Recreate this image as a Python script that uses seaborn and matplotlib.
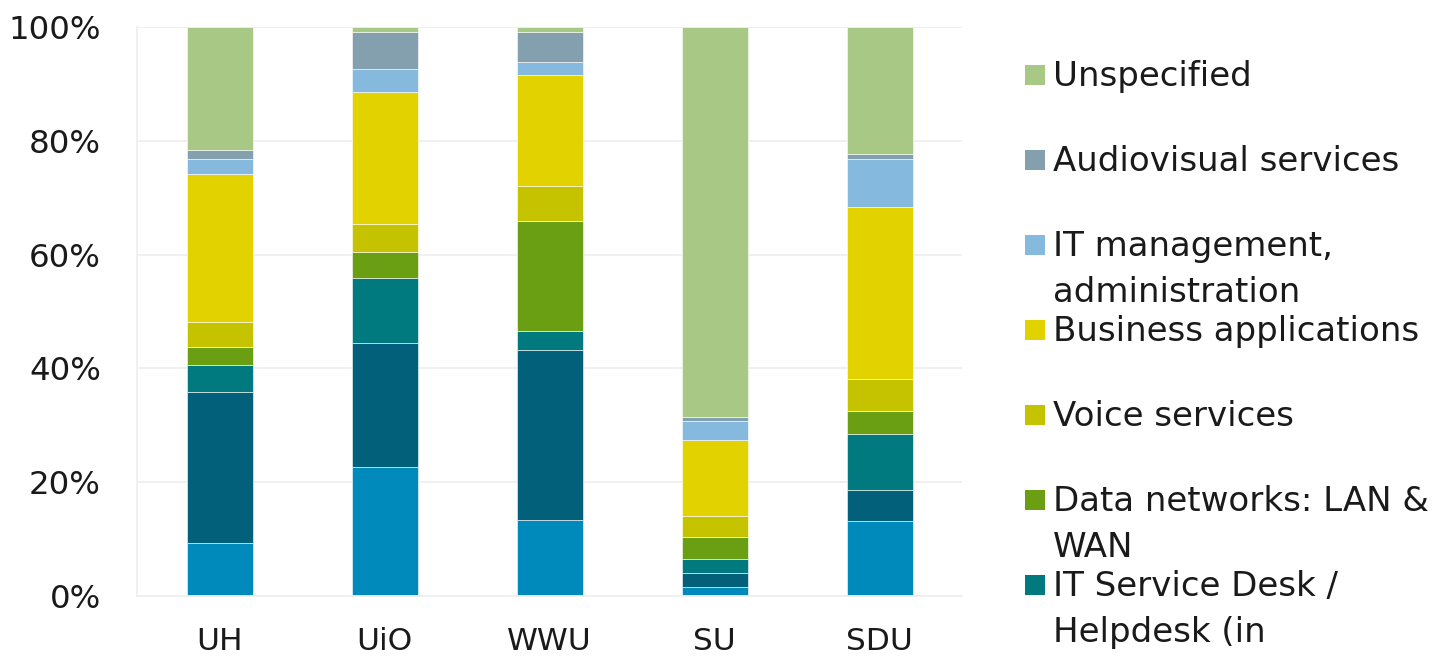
import matplotlib
matplotlib.use("Agg")
import matplotlib.pyplot as plt
import seaborn as sns
import numpy as np
from matplotlib.patches import Rectangle

# ---- data (shares in %, bottom to top) ----
universities = ["UH", "UiO", "WWU", "SU", "SDU"]

series_names = [
    "Category A (not shown in legend)",
    "Category B (not shown in legend)",
    "IT Service Desk /\nHelpdesk (in",
    "Data networks: LAN &\nWAN",
    "Voice services",
    "Business applications",
    "IT management,\nadministration",
    "Audiovisual services",
    "Unspecified",
]

cat_a        = [9.4, 22.7, 13.4, 1.5, 13.1]
cat_b        = [26.4, 21.7, 29.8, 2.5, 5.5]
helpdesk     = [4.8, 11.5, 3.4, 2.5, 9.8]
data_net     = [3.2, 4.5, 19.3, 3.8, 4.2]
voice        = [4.3, 4.9, 6.2, 3.7, 5.5]
business     = [26.1, 23.2, 19.4, 13.4, 30.3]
it_mgmt      = [2.6, 4.1, 2.3, 3.3, 8.4]
audiovisual  = [1.6, 6.5, 5.3, 0.8, 0.9]
unspecified  = [21.6, 0.9, 0.9, 68.5, 22.3]

series_values = [cat_a, cat_b, helpdesk, data_net, voice, business,
                 it_mgmt, audiovisual, unspecified]

colors = ["#008abb", "#03607a", "#007a7f", "#6a9f13", "#c5c300",
          "#e2d200", "#86b9de", "#849fad", "#a8c986"]

ytick_vals = [0, 20, 40, 60, 80, 100]
ytick_labels = ["0%", "20%", "40%", "60%", "80%", "100%"]

# ---- figure ----
sns.set_theme(style="white")
plt.rcParams["font.family"] = ["DejaVu Sans"]

W, H = 1449, 661
fig = plt.figure(figsize=(W / 100, H / 100), dpi=100)
ax = fig.add_axes([137 / W, 1 - 596 / H, (962 - 137) / W, (596 - 27) / H])

bottom = np.zeros(len(universities))
for name, vals, col in zip(series_names, series_values, colors):
    sns.barplot(x=universities, y=vals, bottom=bottom, color=col,
                saturation=1, width=0.4, errorbar=None,
                edgecolor="#ffffff", linewidth=0.4, ax=ax)
    bottom = bottom + np.array(vals)

grid_col = "#efefef"
ax.set_ylim(0, 100)
ax.set_xlim(-0.5, 4.5)
ax.set_yticks(ytick_vals)
ax.set_yticklabels(ytick_labels, fontsize=23.3, color="#1a1a1a")
ax.yaxis.grid(True, color=grid_col, linewidth=1.3)
ax.set_axisbelow(True)
ax.tick_params(axis="y", length=0, pad=26)

ax.set_xticks(range(len(universities)))
ax.set_xticklabels(universities, fontsize=22.5, color="#1a1a1a")
ax.set_xticks(np.arange(-0.5, 4.6, 1.0), minor=True)
ax.tick_params(axis="x", which="major", length=0, pad=22)
ax.tick_params(axis="x", which="minor", length=10, width=1.3,
               color=grid_col, direction="out")

for side in ["top", "right"]:
    ax.spines[side].set_visible(False)
ax.spines["left"].set_color(grid_col)
ax.spines["left"].set_linewidth(1.3)
ax.spines["bottom"].set_color(grid_col)
ax.spines["bottom"].set_linewidth(1.3)
ax.set_xlabel("")
ax.set_ylabel("")

# ---- legend (Excel style, equal slots, top entry first) ----
legend_order = list(range(len(series_names)))[::-1]
slot0 = 75
slot_step = 85
for k, idx in enumerate(legend_order[:7]):
    yc = slot0 + k * slot_step
    fig.patches.append(Rectangle((1025 / W, 1 - (yc + 10) / H), 20 / W, 20 / H,
                                 transform=fig.transFigure,
                                 facecolor=colors[idx], edgecolor="none"))
    fig.text(1053 / W, 1 - (yc - 15) / H, series_names[idx], fontsize=24.5,
             color="#1a1a1a", va="top", ha="left", linespacing=1.5)

fig.savefig("out.png", dpi=100)
